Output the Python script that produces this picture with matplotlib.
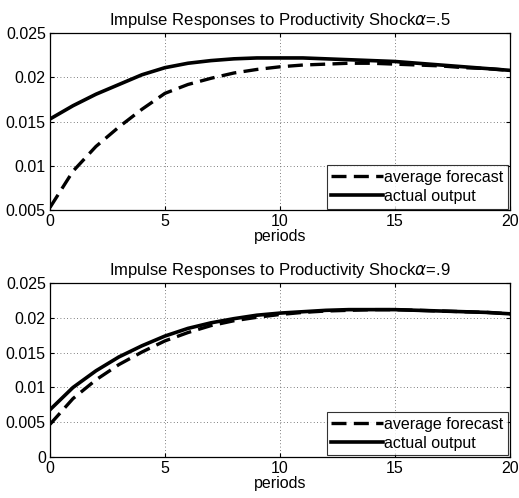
import matplotlib
matplotlib.use("Agg")
import matplotlib.pyplot as plt
from matplotlib.ticker import FixedLocator, FixedFormatter

plt.rcParams['font.family'] = ['Liberation Sans', 'DejaVu Sans']

periods = list(range(21))

# alpha = .5
forecast_a5 = [0.0053, 0.0094, 0.0122, 0.0144, 0.0164, 0.0182, 0.0192, 0.0199, 0.0205, 0.0209,
               0.0212, 0.0214, 0.0215, 0.0216, 0.0216, 0.0215, 0.0214, 0.0213, 0.0211, 0.0210, 0.0208]
output_a5 = [0.0153, 0.0168, 0.0181, 0.0192, 0.0203, 0.0211, 0.0216, 0.0219, 0.0221, 0.0222,
             0.0222, 0.0222, 0.0221, 0.0220, 0.0219, 0.0218, 0.0216, 0.0214, 0.0212, 0.0210, 0.0208]

# alpha = .9
forecast_a9 = [0.0047, 0.0084, 0.0111, 0.0133, 0.0151, 0.0167, 0.0179, 0.0189, 0.0196, 0.0201,
               0.0205, 0.0208, 0.0210, 0.0211, 0.0212, 0.0212, 0.0211, 0.0210, 0.0209, 0.0208, 0.0206]
output_a9 = [0.0068, 0.0100, 0.0124, 0.0144, 0.0160, 0.0174, 0.0185, 0.0193, 0.0199, 0.0204,
             0.0207, 0.0209, 0.0211, 0.0212, 0.0212, 0.0212, 0.0211, 0.0210, 0.0209, 0.0208, 0.0206]

xticks = [0, 5, 10, 15, 20]
yticks_top = [0.005, 0.01, 0.015, 0.02, 0.025]
ylabels_top = ["0.005", "0.01", "0.015", "0.02", "0.025"]
yticks_bot = [0, 0.005, 0.01, 0.015, 0.02, 0.025]
ylabels_bot = ["0", "0.005", "0.01", "0.015", "0.02", "0.025"]

fig = plt.figure(figsize=(5.19, 4.98), dpi=100)
ax1 = fig.add_axes([0.0963, 0.578, 0.886, 0.3554])
ax2 = fig.add_axes([0.0963, 0.0823, 0.886, 0.349])

panels = [
    (ax1, forecast_a5, output_a5, ".5", yticks_top, ylabels_top, (0.005, 0.025)),
    (ax2, forecast_a9, output_a9, ".9", yticks_bot, ylabels_bot, (0, 0.025)),
]

for ax, fc, out, alpha, yt, yl, ylim in panels:
    ax.plot(periods, fc, color='black', lw=2.4, linestyle=(0, (4.5, 2.2)),
            label='average forecast')
    ax.plot(periods, out, color='black', lw=2.6, label='actual output')
    ax.set_xlim(0, 20)
    ax.set_ylim(*ylim)
    ax.xaxis.set_major_locator(FixedLocator(xticks))
    ax.yaxis.set_major_locator(FixedLocator(yt))
    ax.yaxis.set_major_formatter(FixedFormatter(yl))
    ax.tick_params(direction='in', length=3, width=0.8, labelsize=11.5,
                   top=True, right=True, pad=3)
    ax.grid(True, color='#555555', linestyle=(0, (1, 3)), linewidth=0.6)
    for s in ax.spines.values():
        s.set_linewidth(0.9)
    ax.set_title("Impulse Responses to Productivity Shock$\\alpha$=" + alpha,
                 fontsize=12, pad=6)
    ax.set_xlabel("periods", fontsize=11.5, labelpad=0)
    leg = ax.legend(loc='lower right', fontsize=11.5, frameon=True, fancybox=False,
                    borderaxespad=0.1, handlelength=3.2, handletextpad=0.1,
                    borderpad=0.3, labelspacing=0.25)
    leg.get_frame().set_edgecolor('black')
    leg.get_frame().set_linewidth(0.8)

fig.savefig("out.png", dpi=100)
